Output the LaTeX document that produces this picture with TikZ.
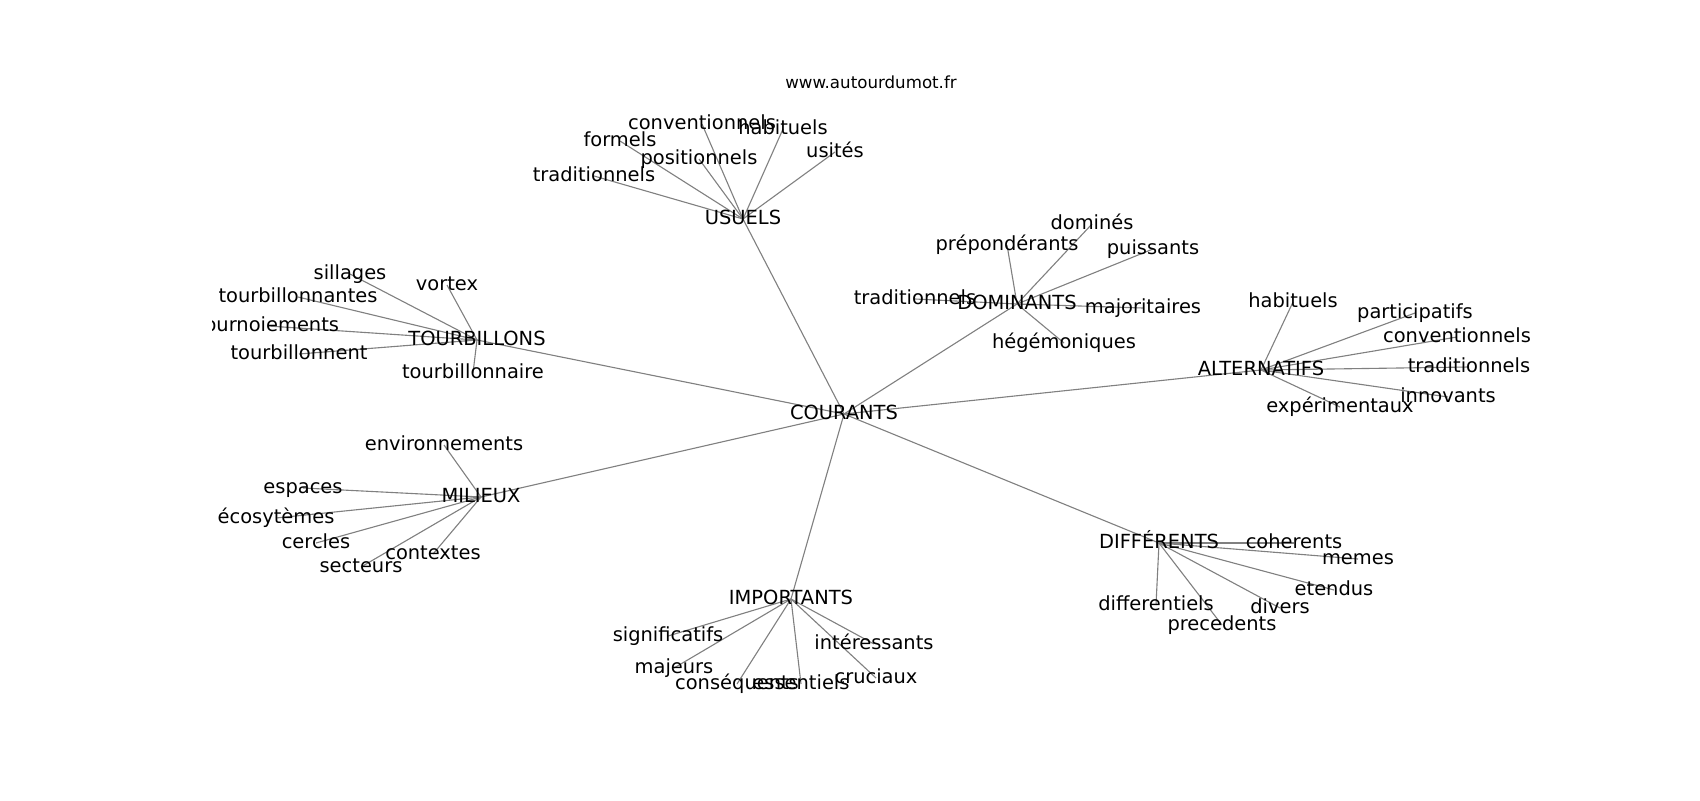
\documentclass[tikz,border=0pt]{standalone}
\usepackage{fontspec}
\setmainfont{DejaVu Sans}
\usepackage{tikz}
\usetikzlibrary{backgrounds}

\tikzset{
    word/.style={inner sep=0pt, text height=10.6pt, text depth=2.9pt, font=\fontsize{14}{16}\selectfont},
    link/.style={black!50, line width=0.8pt}
}

\begin{document}
\begin{tikzpicture}[x=0.72pt, y=-0.72pt]
    \useasboundingbox (0,0) rectangle (1700,800);
    \node[font=\fontsize{12}{14}\selectfont] (title) at (871,82) {www.autourdumot.fr};

    \begin{scope}
    \clip (212.5,96) rectangle (1530,712);

    % Centre
    \node[word] (cour) at (844,414) {COURANTS};

    % Usuels
    \node[word] (usu) at (743,219) {USUELS};
    \node[word] (usu1) at (594,176) {traditionnels};
    \node[word] (usu2) at (620,141) {formels};
    \node[word] (usu3) at (702,124) {conventionnels};
    \node[word] (usu4) at (699,159) {positionnels};
    \node[word] (usu5) at (783,129) {habituels};
    \node[word] (usu6) at (835,152) {usités};

    % Tourbillons
    \node[word] (tou) at (477,340) {TOURBILLONS};
    \node[word] (tou1) at (350,274) {sillages};
    \node[word] (tou2) at (447,285) {vortex};
    \node[word] (tou3) at (298,297) {tourbillonnantes};
    \node[word] (tou4) at (268,326) {tournoiements};
    \node[word] (tou5) at (299,354) {tourbillonnent};
    \node[word] (tou6) at (473,373) {tourbillonnaire};

    % Dominants
    \node[word] (dom) at (1017,304) {DOMINANTS};
    \node[word] (dom1) at (1092,224) {dominés};
    \node[word] (dom2) at (1007,245) {prépondérants};
    \node[word] (dom3) at (1153,249) {puissants};
    \node[word] (dom4) at (915,299) {traditionnels};
    \node[word] (dom5) at (1143,308) {majoritaires};
    \node[word] (dom6) at (1064,343) {hégémoniques};

    % Alternatifs
    \node[word] (alt) at (1261,370) {ALTERNATIFS};
    \node[word] (alt1) at (1293,302) {habituels};
    \node[word] (alt2) at (1415,313) {participatifs};
    \node[word] (alt3) at (1457,337) {conventionnels};
    \node[word] (alt4) at (1469,367) {traditionnels};
    \node[word] (alt5) at (1448,397) {innovants};
    \node[word] (alt6) at (1340,407) {expérimentaux};

    % Milieux
    \node[word] (mil) at (481,497) {MILIEUX};
    \node[word] (mil1) at (444,445) {environnements};
    \node[word] (mil2) at (303,488) {espaces};
    \node[word] (mil3) at (276,518) {écosytèmes};
    \node[word] (mil4) at (316,543) {cercles};
    \node[word] (mil5) at (433,554) {contextes};
    \node[word] (mil6) at (361,567) {secteurs};

    % Importants
    \node[word] (imp) at (791,599) {IMPORTANTS};
    \node[word] (imp1) at (668,636) {significatifs};
    \node[word] (imp2) at (674,668) {majeurs};
    \node[word] (imp3) at (737,684) {conséquents};
    \node[word] (imp4) at (801,684) {essentiels};
    \node[word] (imp5) at (874,644) {intéressants};
    \node[word] (imp6) at (876,678) {cruciaux};

    % Differents
    \node[word] (dif) at (1159,543) {DIFFÉRENTS};
    \node[word] (dif1) at (1294,543) {coherents};
    \node[word] (dif2) at (1358,559) {memes};
    \node[word] (dif3) at (1334,590) {etendus};
    \node[word] (dif4) at (1280,608) {divers};
    \node[word] (dif5) at (1156,605) {differentiels};
    \node[word] (dif6) at (1222,625) {precedents};
    \end{scope}

    % Links
    \begin{pgfonlayer}{background}
    \foreach \h in {usu,tou,dom,alt,mil,imp,dif} {
        \draw[link] (cour.center) -- (\h.center);
        \foreach \i in {1,...,6}
            \draw[link] (\h.center) -- (\h\i.center);
    }
    \end{pgfonlayer}
\end{tikzpicture}
\end{document}
